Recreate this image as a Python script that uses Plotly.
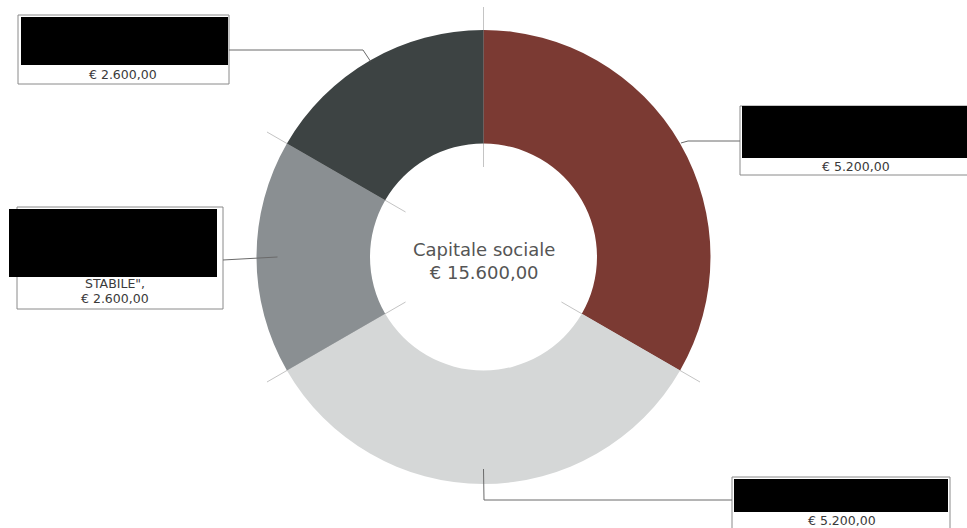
import math
import plotly.graph_objects as go

# ---- data ----
labels = ["Socio 1", "Socio 2", "Socio 3", "Socio 4"]
values = [5200, 5200, 2600, 2600]
value_texts = ["€ 5.200,00", "€ 5.200,00", "€ 2.600,00", "€ 2.600,00"]
extra_texts = ["", "", "STABILE\",", ""]
colors = ["#7b3a33", "#d5d7d7", "#8a8f92", "#3d4343"]
center_title = "Capitale sociale"


def fmt_eur(v):
    s = f"{v:,.2f}"
    s = s.replace(",", "X").replace(".", ",").replace("X", ".")
    return "€ " + s


total = sum(values)

# ---- geometry (pixels in the viewport) ----
W, H = 967, 528
cx, cy, R = 483.5, 257.0, 227.0


def px(x):
    return x / W


def py(y):
    return 1 - y / H


fig = go.Figure(go.Pie(
    labels=labels, values=values, hole=0.5, sort=False, direction="clockwise",
    rotation=0, marker=dict(colors=colors, line=dict(width=0)),
    textinfo="none", hoverinfo="label+value", showlegend=False,
    domain=dict(x=[px(cx - R), px(cx + R)], y=[py(cy + R), py(cy - R)]),
))

shapes = []
annotations = []

# slice angles (clockwise from 12 o'clock)
bounds = [0.0]
for v in values:
    bounds.append(bounds[-1] + 360.0 * v / total)
mids = [(bounds[i] + bounds[i + 1]) / 2 for i in range(len(values))]


def polar(angle_deg, r):
    a = math.radians(angle_deg)
    return cx + r * math.sin(a), cy - r * math.cos(a)


# faint radial lines at slice boundaries
for b in bounds[:-1]:
    x0, y0 = polar(b, 90)
    x1, y1 = polar(b, 250)
    shapes.append(dict(type="line", xref="paper", yref="paper", layer="below",
                       x0=px(x0), y0=py(y0), x1=px(x1), y1=py(y1),
                       line=dict(color="#c4c4c4", width=1)))

# label boxes: outline, redaction box, text positions, leader elbow, end radius
boxes = [
    dict(outline=(740, 106, 975, 175), black=(742, 106, 975, 158),
         text=[(856, 166)], leader=[(740, 141), (688, 141)], r=228),
    dict(outline=(732, 477, 950, 535), black=(734, 479, 948, 512),
         text=[(842, 520)], leader=[(732, 500), (484, 500)], r=212),
    dict(outline=(17, 207, 223, 309), black=(9, 209, 217, 277),
         text=[(115, 283), (115, 298)], leader=[(223, 260)], r=206),
    dict(outline=(18, 15, 229, 84), black=(21, 17, 228, 65),
         text=[(123, 74)], leader=[(229, 50), (363, 50)], r=226),
]

for i, bx in enumerate(boxes):
    x0, y0, x1, y1 = bx["outline"]
    shapes.append(dict(type="rect", xref="paper", yref="paper",
                       x0=px(x0), y0=py(y1), x1=px(x1), y1=py(y0),
                       line=dict(color="#8a8a8a", width=1), fillcolor="white"))
    x0, y0, x1, y1 = bx["black"]
    shapes.append(dict(type="rect", xref="paper", yref="paper",
                       x0=px(x0), y0=py(y1), x1=px(x1), y1=py(y0),
                       line=dict(width=0), fillcolor="black"))
    ex, ey = polar(mids[i], bx["r"])
    pts = bx["leader"] + [(ex, ey)]
    path = "M " + " L ".join(f"{px(x):.5f},{py(y):.5f}" for x, y in pts)
    shapes.append(dict(type="path", xref="paper", yref="paper", path=path,
                       line=dict(color="#6a6a6a", width=1)))
    lines = [t for t in [extra_texts[i], value_texts[i]] if t]
    for (tx, ty), t in zip(bx["text"], lines):
        annotations.append(dict(xref="paper", yref="paper", x=px(tx), y=py(ty),
                                text=t, showarrow=False, xanchor="center",
                                yanchor="middle",
                                font=dict(family="DejaVu Sans", size=12.5,
                                          color="#3a3a3a")))

annotations.append(dict(xref="paper", yref="paper", x=px(cx), y=py(261),
                        text=center_title + "<br>" + fmt_eur(total),
                        showarrow=False, xanchor="center", yanchor="middle",
                        font=dict(family="DejaVu Sans", size=18, color="#555555")))

fig.update_layout(
    width=W, height=H, margin=dict(l=0, r=0, t=0, b=0),
    paper_bgcolor="white", plot_bgcolor="white",
    shapes=shapes, annotations=annotations,
)

fig.write_html(
    "out.html",
    config={"displayModeBar": False},
    post_script="document.body.style.margin='0';document.body.style.overflow='hidden';",
)
